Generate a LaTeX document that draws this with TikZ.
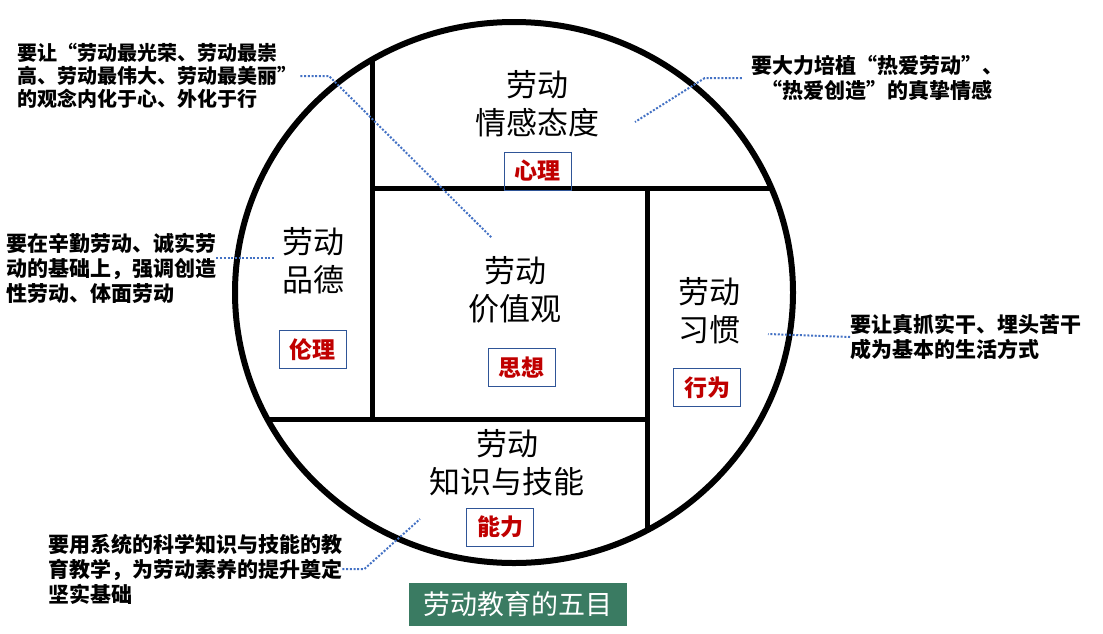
\documentclass[tikz,border=0pt]{standalone}
\usepackage{fontspec}
\setmainfont{Noto Sans CJK SC}
\definecolor{badgered}{HTML}{C00000}
\definecolor{badgeblue}{HTML}{2F5597}
\definecolor{leaderblue}{HTML}{4472C4}
\definecolor{titlegreen}{HTML}{3A7B62}
\begin{document}
\begin{tikzpicture}[x=1pt,y=-1pt,
  field/.style={align=center,font=\fontsize{31}{38}\selectfont,inner sep=0pt},
  badge/.style={draw=badgeblue,line width=1pt,text=badgered,font=\fontsize{23}{23}\selectfont\bfseries,
    minimum width=67pt,minimum height=38pt,inner sep=0pt},
  note/.style={align=left,font=\fontsize{21}{25}\selectfont\bfseries,inner sep=0pt},
  leader/.style={leaderblue,line width=2pt,dash pattern=on 2pt off 1.7pt}]
\useasboundingbox (0,0) rectangle (1103,633);

% partitions inside the circle
\begin{scope}
\clip (514,292.5) ellipse [x radius=279pt, y radius=270.5pt];
\draw[line width=5pt] (372,0) -- (372,419);
\draw[line width=5pt] (372,188) -- (820,188);
\draw[line width=5pt] (647,188) -- (647,600);
\draw[line width=5pt] (200,419) -- (647,419);
\end{scope}
\draw[line width=6pt] (514,292.5) ellipse [x radius=279pt, y radius=270.5pt];

% the five fields
\node[field] (att) at (537,104) {劳动\\情感态度};
\node[field] (mor) at (313,261) {劳动\\品德};
\node[field] (val) at (515,290) {劳动\\价值观};
\node[field] (hab) at (709,310.5) {劳动\\习惯};
\node[field] (kno) at (507,463) {劳动\\知识与技能};

\foreach \name/\x/\y/\txt in {b-att/537.5/171/心理, b-mor/312.5/349.5/伦理,
  b-val/521.5/367.5/思想, b-hab/707/387.5/行为, b-kno/500/527/能力}
  \node[badge] (\name) at (\x,\y) {\txt};

% notes
\node[note,anchor=west,font=\fontsize{20}{23}\selectfont\bfseries] (n-val) at (17,76)
  {要让“劳动最光荣、劳动最崇\\高、劳动最伟大、劳动最美丽”\\的观念内化于心、外化于行};
\node[note,align=center] (n-att) at (877,78) {要大力培植“热爱劳动”、\\“热爱创造”的真挚情感};
\node[note,anchor=west] (n-mor) at (6,268) {要在辛勤劳动、诚实劳\\动的基础上，强调创造\\性劳动、体面劳动};
\node[note,anchor=west] (n-hab) at (850,337) {要让真抓实干、埋头苦干\\成为基本的生活方式};
\node[note,anchor=west] (n-kno) at (48,569) {要用系统的科学知识与技能的教\\育教学，为劳动素养的提升奠定\\坚实基础};

\coordinate (k-val) at (329,76);
\coordinate (e-val) at (492,238);
\coordinate (e-att) at (635,122);
\coordinate (e-mor) at (275,258);
\coordinate (e-hab) at (768,334);
\coordinate (e-kno) at (420,519);

\draw[leader] ([xshift=3pt]n-val.east) -- (k-val) -- (e-val);
\draw[leader] ([xshift=-9pt]n-att.west) -- ++(-37,0) -- (e-att);
\draw[leader] ([yshift=10pt]n-mor.east) -- (e-mor);
\draw[leader] (n-hab.west) -- (e-hab);
\draw[leader] (n-kno.east) -- ++(22,0) -- (e-kno);

\node[fill=titlegreen,text=white,minimum width=218pt,minimum height=43pt,
  font=\fontsize{27}{27}\selectfont] (title) at (518,604.5) {劳动教育的五目};
\end{tikzpicture}
\end{document}
